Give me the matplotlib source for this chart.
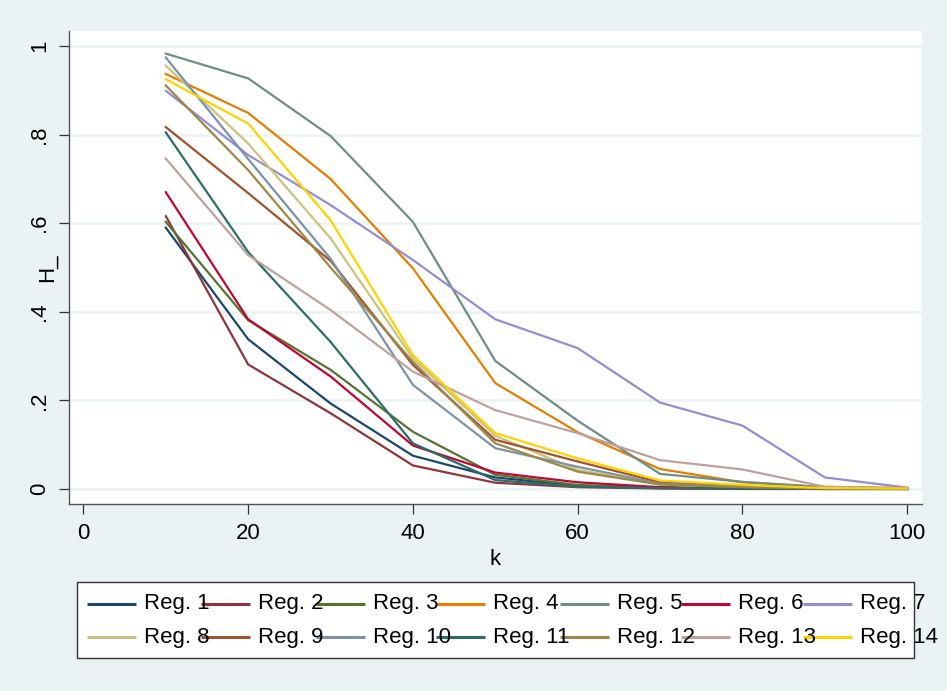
import matplotlib
matplotlib.use('Agg')
import matplotlib.pyplot as plt
from matplotlib.patches import Rectangle

# Datos (k vs H_ por region)
k = [10, 20, 30, 40, 50, 60, 70, 80, 90, 100]

reg1 = [0.590, 0.338, 0.193, 0.075, 0.026, 0.007, 0.002, 0.001, 0.000, 0.000]
reg2 = [0.616, 0.281, 0.171, 0.053, 0.014, 0.004, 0.001, 0.000, 0.000, 0.000]
reg3 = [0.603, 0.381, 0.269, 0.129, 0.032, 0.009, 0.003, 0.001, 0.000, 0.000]
reg4 = [0.937, 0.849, 0.700, 0.498, 0.239, 0.128, 0.045, 0.015, 0.004, 0.002]
reg5 = [0.983, 0.927, 0.797, 0.603, 0.289, 0.154, 0.034, 0.016, 0.004, 0.001]
reg6 = [0.670, 0.383, 0.254, 0.098, 0.037, 0.015, 0.004, 0.002, 0.001, 0.000]
reg7 = [0.899, 0.754, 0.641, 0.517, 0.383, 0.318, 0.195, 0.143, 0.026, 0.003]
reg8 = [0.956, 0.780, 0.566, 0.295, 0.120, 0.043, 0.010, 0.004, 0.001, 0.000]
reg9 = [0.817, 0.668, 0.515, 0.280, 0.111, 0.062, 0.015, 0.006, 0.002, 0.001]
reg10 = [0.974, 0.745, 0.520, 0.235, 0.092, 0.050, 0.012, 0.005, 0.002, 0.001]
reg11 = [0.805, 0.535, 0.332, 0.103, 0.020, 0.005, 0.002, 0.001, 0.000, 0.000]
reg12 = [0.911, 0.720, 0.500, 0.287, 0.103, 0.039, 0.010, 0.004, 0.001, 0.000]
reg13 = [0.746, 0.528, 0.404, 0.265, 0.178, 0.126, 0.065, 0.044, 0.005, 0.002]
reg14 = [0.925, 0.825, 0.607, 0.302, 0.126, 0.069, 0.019, 0.009, 0.002, 0.001]

series = [reg1, reg2, reg3, reg4, reg5, reg6, reg7,
          reg8, reg9, reg10, reg11, reg12, reg13, reg14]
labels = [f'Reg. {i}' for i in range(1, 15)]

# paleta s2color de Stata
colores = ['#1a476f', '#90353b', '#55752f', '#e37e00', '#6e8e84', '#c10534',
           '#938dd2', '#cac27e', '#a0522d', '#7b92a8', '#2d6d66', '#9c8847',
           '#bfa19c', '#ffd200']

y_ticks = [0, 0.2, 0.4, 0.6, 0.8, 1.0]
y_ticklabels = ['0', '.2', '.4', '.6', '.8', '1']
x_ticks = [0, 20, 40, 60, 80, 100]

fondo = '#eaf2f3'
plt.rcParams['font.family'] = ['Liberation Sans', 'DejaVu Sans']

W, H = 947, 691
fig = plt.figure(figsize=(W / 100, H / 100), dpi=100, facecolor=fondo)

# area del grafico en pixeles
x0, x1, y0, y1 = 69, 922, 31, 504
ax = fig.add_axes([x0 / W, 1 - y1 / H, (x1 - x0) / W, (y1 - y0) / H])
ax.set_facecolor('white')

for datos, color, lab in zip(series, colores, labels):
    ax.plot(k, datos, color=color, linewidth=1.6, label=lab, zorder=3)

ax.set_xlim(-1.75, 101.8)
ax.set_ylim(-0.034, 1.034)
ax.set_yticks(y_ticks)
ax.set_yticklabels(y_ticklabels)
ax.set_xticks(x_ticks)

ax.grid(True, axis='y', color=fondo, linewidth=1.8, zorder=1)
ax.set_axisbelow(True)

for lado in ['top', 'right']:
    ax.spines[lado].set_visible(False)
for lado in ['left', 'bottom']:
    ax.spines[lado].set_color('#555555')
    ax.spines[lado].set_linewidth(1.0)

ax.tick_params(axis='both', labelsize=16, length=7.5, width=0.9,
               color='#333333', pad=6)
plt.setp(ax.get_yticklabels(), rotation=90, va='center')

ax.set_xlabel('k', fontsize=16)
ax.xaxis.set_label_coords(0.5, (y1 - 549) / (y1 - y0))
ax.xaxis.label.set_va('top')
ax.text((47 - x0) / (x1 - x0), 0.5, 'H_', rotation=90, fontsize=16,
        ha='center', va='center', transform=ax.transAxes)

# leyenda dibujada a mano, al estilo de Stata
lax = fig.add_axes([0, 0, 1, 1])
lax.set_xlim(0, W)
lax.set_ylim(H, 0)
lax.axis('off')
lax.add_patch(Rectangle((77, 582), 914 - 77, 658 - 582, facecolor='white',
                        edgecolor='#333333', linewidth=1.0))
col_x = [87, 201, 316, 436, 560, 681, 803]
fila_y = [604, 637]
for i, (color, lab) in enumerate(zip(colores, labels)):
    fila, col = divmod(i, 7)
    xk, yk = col_x[col], fila_y[fila]
    lax.text(xk + 57, yk, lab, fontsize=16, ha='left', va='center')
    lax.plot([xk, xk + 49], [yk, yk], color=color, linewidth=2.2,
             solid_capstyle='butt')

fig.savefig('out.png', dpi=100, facecolor=fondo)
